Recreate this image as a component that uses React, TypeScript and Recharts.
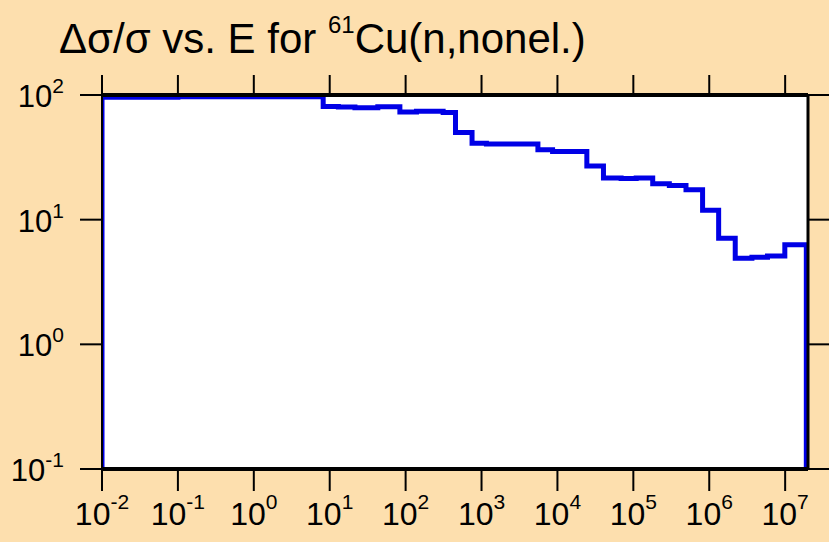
import React from 'react';
import { LineChart, Line, XAxis, YAxis, CartesianGrid } from 'recharts';

// group boundaries in eV and relative uncertainty (%) per group
const energies = [0.01, 0.1, 8.2, 13, 21.5, 43, 84, 139, 312, 454, 750, 1160, 2120, 5530, 8630, 24400, 40400, 69000, 1.09e5, 1.8e5, 2.98e5, 4.94e5, 8.17e5, 1.33e6, 2.2e6, 3.65e6, 5.85e6, 9.9e6, 1.9e7];
const uncertainty = [96, 97, 81, 80, 79, 80.5, 73, 74, 72.5, 50, 41, 40.5, 40.5, 36.4, 35.3, 27, 21.6, 21.4, 21.6, 19.4, 18.8, 17.4, 11.9, 7.1, 4.9, 5.0, 5.1, 6.3];

const xTicks = [1e-2, 1e-1, 1e0, 1e1, 1e2, 1e3, 1e4, 1e5, 1e6, 1e7];
const xExps = ['-2', '-1', '0', '1', '2', '3', '4', '5', '6', '7'];
const yTicks = [0.1, 1, 10, 100];
const yExps = ['-1', '0', '1', '2'];

const FLOOR = 0.1;

const data = [
  { e: energies[0], v: FLOOR },
  ...uncertainty.map((u, i) => ({ e: energies[i], v: u })),
  { e: energies[energies.length - 1], v: uncertainty[uncertainty.length - 1] },
  { e: energies[energies.length - 1], v: FLOOR },
];

const font = '"Liberation Sans", Arial, Helvetica, sans-serif';

const XTick = (props: any) => {
  const { x, y, payload } = props;
  const exp = xExps[xTicks.indexOf(payload.value)] ?? '';
  return (
    <text x={x} y={y} textAnchor="middle" fontFamily={font} fontSize={32} fill="#000">
      <tspan dy={32}>10</tspan>
      <tspan dy={-16} fontSize={21}>{exp}</tspan>
    </text>
  );
};

const YTick = (props: any) => {
  const { x, y, payload } = props;
  const exp = yExps[yTicks.indexOf(payload.value)] ?? '';
  return (
    <text x={x} y={y} textAnchor="end" fontFamily={font} fontSize={31} fill="#000">
      <tspan dy={12}>10</tspan>
      <tspan dy={-14} fontSize={21}>{exp}</tspan>
    </text>
  );
};

const noLabel = () => '';

const App = () => {
  return (
    <div style={{ position: 'absolute', left: 0, top: 0, width: 829, height: 542, background: '#FDDFAE' }}>
      <svg width={829} height={70} style={{ position: 'absolute', left: 0, top: 0 }}>
        <text x={59} y={53} fontFamily={font} fontSize={42} fill="#000">
          Δσ/σ vs. E for{' '}
          <tspan dy={-20} fontSize={24}>61</tspan>
          <tspan dy={20}>Cu(n,nonel.)</tspan>
        </text>
      </svg>
      <div style={{ position: 'absolute', left: 0, top: 0 }}>
        <LineChart width={829} height={542} data={data} margin={{ top: 94, right: 20, bottom: 0, left: 0 }}>
          <CartesianGrid fill="#fff" stroke="none" horizontal={false} vertical={false} />
          <XAxis
            dataKey="e"
            type="number"
            scale="log"
            domain={[0.01, 2e7]}
            allowDataOverflow
            ticks={xTicks}
            interval={0}
            height={73}
            tickSize={22}
            tickMargin={2}
            axisLine={{ stroke: '#000', strokeWidth: 4 }}
            tickLine={{ stroke: '#000', strokeWidth: 2 }}
            tick={<XTick />}
          />
          <XAxis
            xAxisId="top"
            orientation="top"
            dataKey="e"
            type="number"
            scale="log"
            domain={[0.01, 2e7]}
            allowDataOverflow
            ticks={xTicks}
            interval={0}
            height={1}
            tickSize={20}
            axisLine={{ stroke: '#000', strokeWidth: 4 }}
            tickLine={{ stroke: '#000', strokeWidth: 2 }}
            tickFormatter={noLabel}
          />
          <YAxis
            type="number"
            scale="log"
            domain={[0.1, 100]}
            allowDataOverflow
            ticks={yTicks}
            interval={0}
            width={102}
            tickSize={22}
            tickMargin={16}
            axisLine={{ stroke: '#000', strokeWidth: 2 }}
            tickLine={{ stroke: '#000', strokeWidth: 2 }}
            tick={<YTick />}
          />
          <YAxis
            yAxisId="right"
            orientation="right"
            type="number"
            scale="log"
            domain={[0.1, 100]}
            allowDataOverflow
            ticks={yTicks}
            interval={0}
            width={1}
            tickSize={22}
            axisLine={{ stroke: '#000', strokeWidth: 3 }}
            tickLine={{ stroke: '#000', strokeWidth: 2 }}
            tickFormatter={noLabel}
          />
          <Line
            type="stepAfter"
            dataKey="v"
            stroke="#0000E6"
            strokeWidth={5}
            dot={false}
            isAnimationActive={false}
          />
        </LineChart>
      </div>
    </div>
  );
};

export default App;
